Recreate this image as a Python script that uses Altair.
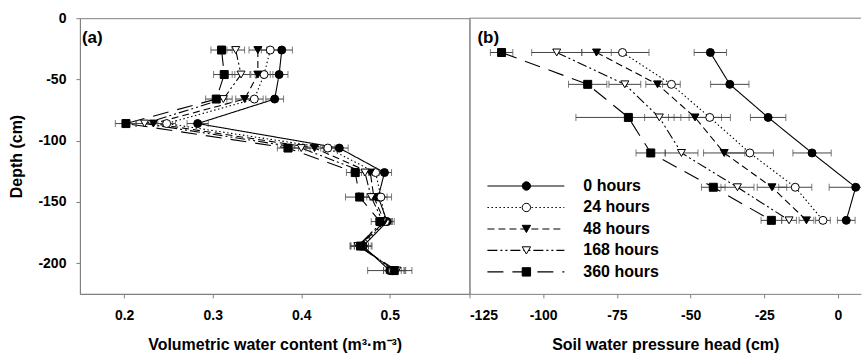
import altair as alt
import pandas as pd

FONT = "Liberation Sans"

# ---------------- data ----------------
series = ["0 hours", "24 hours", "48 hours", "168 hours", "360 hours"]

# Panel (a): volumetric water content vs depth
depth_a = [-26, -46, -66, -86, -106, -126, -146, -166, -186, -206]
theta_0h = [0.378, 0.375, 0.370, 0.283, 0.443, 0.494, 0.487, 0.497, 0.470, 0.500]
theta_24h = [0.365, 0.358, 0.347, 0.248, 0.430, 0.484, 0.490, 0.495, 0.468, 0.503]
theta_48h = [0.351, 0.351, 0.336, 0.233, 0.415, 0.478, 0.482, 0.494, 0.466, 0.506]
theta_168h = [0.326, 0.332, 0.312, 0.223, 0.400, 0.472, 0.479, 0.492, 0.464, 0.508]
theta_360h = [0.310, 0.313, 0.304, 0.202, 0.385, 0.461, 0.466, 0.489, 0.467, 0.505]
err_a_0h = [0.012, 0.010, 0.010, 0.012, 0.010, 0.008, 0.010, 0.008, 0.010, 0.025]
err_a_24h = [0.010, 0.010, 0.010, 0.010, 0.008, 0.008, 0.012, 0.008, 0.008, 0.010]
err_a_48h = [0.010, 0.008, 0.010, 0.010, 0.010, 0.010, 0.008, 0.008, 0.010, 0.010]
err_a_168h = [0.010, 0.010, 0.010, 0.010, 0.010, 0.008, 0.010, 0.008, 0.008, 0.010]
err_a_360h = [0.012, 0.012, 0.012, 0.012, 0.012, 0.010, 0.016, 0.010, 0.012, 0.012]

# Panel (b): soil water pressure head vs depth
depth_b = [-28, -54, -81, -110, -138, -165]
head_0h = [-43.3, -36.7, -23.7, -8.8, 6.0, 2.8]
head_24h = [-73.1, -56.5, -43.5, -29.9, -14.5, -5.1]
head_48h = [-81.9, -61.2, -48.5, -38.6, -22.4, -10.7]
head_168h = [-95.4, -72.3, -60.6, -53.1, -34.1, -16.6]
head_360h = [-114.1, -84.9, -71.1, -63.5, -42.3, -22.6]
err_b_0h = [5.5, 6.5, 6.0, 6.5, 9.0, 3.0]
err_b_24h = [9.0, 3.0, 7.0, 8.0, 5.6, 2.5]
err_b_48h = [5.0, 4.0, 9.0, 7.0, 5.0, 2.5]
err_b_168h = [8.5, 5.4, 5.0, 5.6, 5.6, 2.5]
err_b_360h = [3.8, 6.5, 17.8, 5.0, 4.0, 3.5]

x_ticks_a = [0.2, 0.3, 0.4, 0.5]
x_ticks_b = [-125, -100, -75, -50, -25, 0]
y_ticks = [0, -50, -100, -150, -200]


def build(depths, vals, errs):
    rows = []
    for s, v, e in zip(series, vals, errs):
        for d, x, er in zip(depths, v, e):
            rows.append({"series": s, "depth": d, "value": x,
                         "lo": x - er, "hi": x + er})
    return pd.DataFrame(rows)


df_a = build(depth_a, [theta_0h, theta_24h, theta_48h, theta_168h, theta_360h],
             [err_a_0h, err_a_24h, err_a_48h, err_a_168h, err_a_360h])
df_b = build(depth_b, [head_0h, head_24h, head_48h, head_168h, head_360h],
             [err_b_0h, err_b_24h, err_b_48h, err_b_168h, err_b_360h])
df_leg = pd.DataFrame({"series": series, "idx": list(range(len(series)))})

# ---------------- styles ----------------
shape_scale = alt.Scale(domain=series,
                        range=["circle", "circle", "triangle-down", "triangle-down", "square"])
fill_scale = alt.Scale(domain=series,
                       range=["black", "white", "black", "white", "black"])
dash_scale = alt.Scale(domain=series,
                       range=[[1, 0], [1.5, 2.5], [7, 4], [10, 3, 2, 3, 2, 3], [16, 9]])

W_A, W_B, H = 390, 392, 276
HYPHEN_INT = "datum.value < 0 ? '-' + format(abs(datum.value), 'd') : format(datum.value, 'd')"


def panel_layers(df, xdom, xticks, xtitle, xexpr, show_y):
    xs = alt.Scale(domain=xdom, nice=False, zero=False)
    ys = alt.Scale(domain=[-225, 0], nice=False, zero=False)
    if show_y:
        yaxis = alt.Axis(values=y_ticks, title="Depth (cm)", labelPadding=10,
                         titlePadding=13, labelExpr=HYPHEN_INT)
    else:
        yaxis = alt.Axis(values=y_ticks, labels=False, ticks=False, title=None)
    xaxis = alt.Axis(values=xticks, title=xtitle, labelExpr=xexpr,
                     labelPadding=11, titlePadding=14)
    base = alt.Chart(df)
    lines = base.mark_line(color="black", strokeWidth=1.1, clip=True).encode(
        x=alt.X("value:Q", scale=xs, axis=xaxis),
        y=alt.Y("depth:Q", scale=ys, axis=yaxis),
        detail="series:N",
        order=alt.Order("depth:Q", sort="descending"),
        strokeDash=alt.StrokeDash("series:N", scale=dash_scale, legend=None),
    )
    bars = base.mark_rule(color="#444", strokeWidth=1, clip=True).encode(
        x=alt.X("lo:Q", scale=xs), x2="hi:Q", y=alt.Y("depth:Q", scale=ys))
    cap_lo = base.mark_tick(orient="vertical", color="#444", size=7,
                            thickness=1, clip=True).encode(
        x=alt.X("lo:Q", scale=xs), y=alt.Y("depth:Q", scale=ys))
    cap_hi = base.mark_tick(orient="vertical", color="#444", size=7,
                            thickness=1, clip=True).encode(
        x=alt.X("hi:Q", scale=xs), y=alt.Y("depth:Q", scale=ys))
    pts = base.mark_point(filled=True, stroke="black", strokeWidth=1,
                          opacity=1, size=64, clip=True).encode(
        x=alt.X("value:Q", scale=xs),
        y=alt.Y("depth:Q", scale=ys),
        shape=alt.Shape("series:N", scale=shape_scale, legend=None),
        fill=alt.Fill("series:N", scale=fill_scale, legend=None),
    )
    return [lines, bars, cap_lo, cap_hi, pts]


def label(txt, x):
    return alt.Chart(pd.DataFrame({"t": [txt]})).mark_text(
        align="left", baseline="middle", font=FONT, fontSize=17,
        fontWeight="bold", color="black").encode(
        text="t:N", x=alt.value(x), y=alt.value(20))


# ---------------- panel (a) ----------------
panel_a = alt.layer(
    *panel_layers(df_a, [0.15, 0.59], x_ticks_a,
                  "Volumetric water content (m³·m⁻³)",
                  "format(datum.value, '.1f')", True),
    label("(a)", 2),
).properties(width=W_A, height=H)

# ---------------- panel (b) ----------------
top_rule = alt.Chart(pd.DataFrame({"k": [0]})).mark_rule(
    color="#808080", strokeWidth=1).encode(
    x=alt.value(0), x2=alt.value(W_B), y=alt.value(0))

b_data = alt.layer(
    *panel_layers(df_b, [-125, 7.8], x_ticks_b,
                  "Soil water pressure head (cm)", HYPHEN_INT, False),
    top_rule,
    label("(b)", 8),
)

leg_y = alt.Y("idx:Q", scale=alt.Scale(domain=[0, 4], range=[168, 254]), axis=None)
leg_base = alt.Chart(df_leg)
leg_lines = leg_base.mark_rule(color="black", strokeWidth=1.1).encode(
    x=alt.value(18), x2=alt.value(95), y=leg_y,
    strokeDash=alt.StrokeDash("series:N", scale=dash_scale, legend=None))
leg_pts = leg_base.mark_point(filled=True, stroke="black", strokeWidth=1,
                              opacity=1, size=70).encode(
    x=alt.value(57), y=leg_y,
    shape=alt.Shape("series:N", scale=shape_scale, legend=None),
    fill=alt.Fill("series:N", scale=fill_scale, legend=None))
leg_txt = leg_base.mark_text(align="left", baseline="middle", font=FONT,
                             fontSize=16, fontWeight="bold", color="black").encode(
    x=alt.value(114), y=leg_y, text="series:N")
b_legend = alt.layer(leg_lines, leg_pts, leg_txt)

panel_b = alt.layer(b_data, b_legend).resolve_scale(y="independent").properties(
    width=W_B, height=H, view=alt.ViewBackground(stroke="transparent"))

chart = alt.hconcat(panel_a, panel_b, spacing=0, bounds="flush").properties(
    padding={"left": 8, "top": 10, "right": 0, "bottom": 0}
).configure_view(stroke="#808080", strokeWidth=1).configure_axis(
    labelFont=FONT, titleFont=FONT, labelFontSize=14, titleFontSize=16,
    labelFontWeight="bold", titleFontWeight="bold", labelColor="black",
    titleColor="black", domainColor="#808080", tickColor="#808080",
    tickSize=4, grid=False
)

chart.save("out.html", embed_options={"renderer": "svg", "actions": False})
